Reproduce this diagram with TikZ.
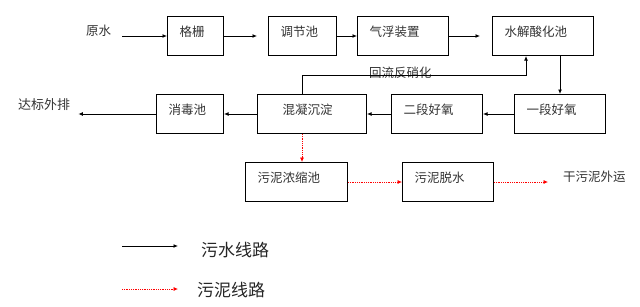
\documentclass[tikz,border=0pt]{standalone}
\usepackage{fontspec}
\newfontfamily\cjk{Noto Sans CJK SC}
\usetikzlibrary{arrows.meta,calc}
\begin{document}
\begin{tikzpicture}[x=1pt,y=-1pt,
  box/.style={draw=black, line width=1pt, rectangle, anchor=north west,
    inner xsep=12pt, inner ysep=0pt, minimum height=39pt,
    text height=10pt, text depth=9.5pt, align=left,
    font=\cjk\fontsize{12.5}{14}\selectfont, text=black!80},
  lbl/.style={inner sep=0pt, anchor=base west, text=black!80,
    font=\cjk\fontsize{12.5}{14}\selectfont},
  leg/.style={inner sep=0pt, anchor=base west, text=black!85,
    font=\cjk\fontsize{17}{19}\selectfont},
  arr/.style={draw=black, line width=0.9pt, -{Latex[length=4.5pt,width=4pt]}},
  sl/.style={draw=red, line width=0.7pt, dash pattern=on 1pt off 0.8pt,
    -{Latex[length=4.5pt,width=4pt]}}
]
\useasboundingbox (0,0) rectangle (640,306);

% top row
\node[box, text width=32pt] (gz) at (167,16) {格栅};
\node[box, text width=44pt] (tj) at (268,16) {调节池};
\node[box, text width=67pt] (qf) at (357,16) {气浮装置};
\node[box, text width=77pt] (sj) at (492,16) {水解酸化池};
% second row
\node[box, text width=43pt] (xd) at (156,94) {消毒池};
\node[box, text width=85pt] (hn) at (257,94) {\hspace*{13pt}混凝沉淀};
\node[box, text width=67pt] (ed) at (391,94) {二段好氧};
\node[box, text width=67pt] (yd) at (514,94) {一段好氧};
% third row
\node[box, text width=78pt] (wn) at (245,162) {污泥浓缩池};
\node[box, text width=67pt] (ws) at (402,162) {污泥脱水};

% labels
\node[lbl] (ys) at (86,35) {原水};
\node[lbl, font=\cjk\fontsize{13}{15}\selectfont] (db) at (18,109.5) {达标外排};
\node[lbl] (hl) at (369,77.5) {回流反硝化};
\node[lbl] (gw) at (563,181) {干污泥外运};
\node[leg] (t1) at (201,256.5) {污水线路};
\node[leg] (t2) at (197,296.5) {污泥线路};

% sewage line
\draw[arr, shorten <=11pt] (ys.east |- gz.west) -- (gz.west);
\draw[arr, shorten >=11pt] (gz.east) -- (tj.west);
\draw[arr] (tj.east) -- (qf.west);
\draw[arr, shorten >=12pt] (qf.east) -- (sj.west);
\draw[arr] (sj.south -| yd.north) -- (yd.north);
\draw[arr] (yd.west) -- (ed.east);
\draw[arr] (ed.west) -- (hn.east);
\draw[arr] (hn.west) -- (xd.east);
\draw[arr, shorten >=8pt] (xd.west) -- (db.east |- xd.west);
\draw[arr] ([xshift=45pt]hn.north west) -- ++(0,-19) -| ([xshift=34pt]sj.south west);

% sludge line
\draw[sl] ([xshift=45pt]hn.south west) -- ([xshift=45pt]hn.south west |- wn.north);
\draw[sl] (wn.east) -- (ws.west);
\draw[sl, shorten >=15pt] (ws.east) -- (gw.west |- ws.east);

% legend
\coordinate (l1a) at (122,246);
\coordinate (l1b) at (178,246);
\coordinate (l2a) at (122,289);
\coordinate (l2b) at (178,289);
\draw[arr] (l1a) -- (l1b);
\draw[sl] (l2a) -- (l2b);
\end{tikzpicture}
\end{document}
